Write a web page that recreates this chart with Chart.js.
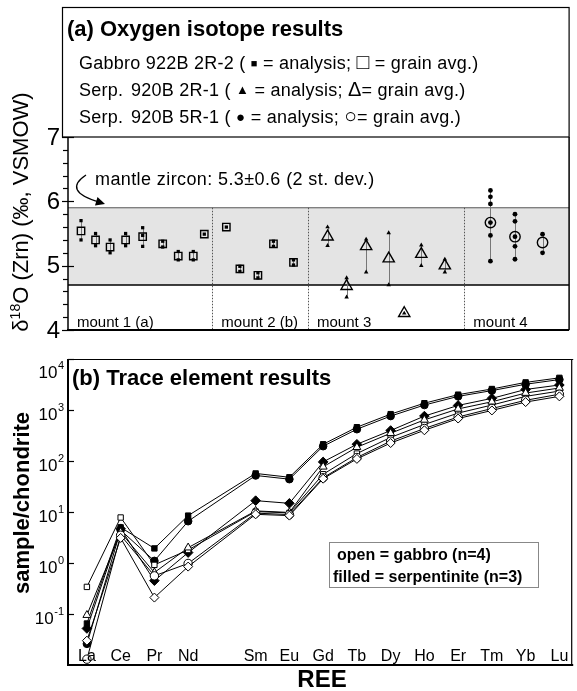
<!DOCTYPE html>
<html><head><meta charset="utf-8">
<script src="https://cdn.jsdelivr.net/npm/chart.js@4/dist/chart.umd.min.js"></script>
<style>
html,body{margin:0;padding:0;background:#fff;}
body{width:577px;height:691px;position:relative;overflow:hidden;font-family:"Liberation Sans",Arial,Helvetica,sans-serif;color:#000;}
.w{position:absolute;left:0;width:577px;}
.t{position:absolute;white-space:nowrap;line-height:1;}
.b{font-weight:bold;}
.h{font-size:18px;letter-spacing:0.25px;}
.s{line-height:0;}
.lab{display:inline-block;width:52px;}
</style></head><body>
<div class="w" style="top:0;height:345px"><canvas id="ca"></canvas></div>
<div class="w" style="top:345px;height:346px"><canvas id="cb"></canvas></div>

<div class="t b" style="left:67px;top:18px;font-size:22px">(a) Oxygen isotope results</div>
<div class="t h" style="left:79px;top:54px">Gabbro 922B 2R-2 ( <span class="s" style="font-size:11px;vertical-align:2px">■</span> = analysis; <span class="s" style="font-size:21px">□</span> = grain avg.)</div>
<div class="t h" style="left:79px;top:81px"><span class="lab">Serp.</span>920B 2R-1 ( <span class="s" style="font-size:13px;vertical-align:2px">▲</span> = analysis; <span class="s" style="font-size:20px">Δ</span>= grain avg.)</div>
<div class="t h" style="left:79px;top:108px"><span class="lab">Serp.</span>920B 5R-1 ( <span class="s" style="font-size:15px;vertical-align:1px">●</span> = analysis; <span class="s" style="font-size:21px">○</span>= grain avg.)</div>
<div class="t" style="left:95px;top:170px;font-size:18px;letter-spacing:0.4px">mantle zircon: 5.3±0.6 (2 st. dev.)</div>
<div class="t" style="left:20px;top:212px;font-size:22px;transform:translate(-50%,-50%) rotate(-90deg)">δ<span style="font-size:14px;vertical-align:8px">18</span>O (Zrn) (‰, VSMOW)</div>

<div class="t b" style="left:72px;top:367px;font-size:22px">(b) Trace element results</div>
<div class="t b" style="left:22px;top:503px;font-size:22px;transform:translate(-50%,-50%) rotate(-90deg)">sample/chondrite</div>
<div class="t b" style="left:322px;top:679px;font-size:24px;transform:translate(-50%,-50%)">REE</div>
<div style="position:absolute;left:329px;top:542px;width:208px;height:44px;border:1px solid #888;"></div>
<div class="t b" style="left:337px;top:547px;font-size:16px">open = gabbro (n=4)</div>
<div class="t b" style="left:333px;top:569px;font-size:16px">filled = serpentinite (n=3)</div>

<script>
// ---------------- Panel (a): oxygen isotopes ----------------
const mountNames = ['mount 1 (a)', 'mount 2 (b)', 'mount 3', 'mount 4'];
const mountStart = [0, 28.8, 47.9, 79.1];
const mountDividers = [28.8, 47.9, 79.1];
const mantleRange = [4.7, 5.9];
const yTicksA = [4, 5, 6, 7];

// Gabbro 922B 2R-2 (squares)
const gabbroX = [2.6, 5.5, 8.4, 11.5, 14.9, 18.9, 22.0, 25.0, 27.2, 31.6, 34.3, 37.9, 41.0, 45.0];
const gabbroAvg = [5.54, 5.40, 5.29, 5.40, 5.45, 5.34, 5.15, 5.15, 5.49, 5.60, 4.95, 4.85, 5.34, 5.05];
const gabbroAnalyses = [[5.70, 5.40], [5.50, 5.31], [5.40, 5.20], [5.50, 5.31], [5.59, 5.47, 5.30], [5.38, 5.29],
  [5.22, 5.09], [5.22, 5.09], [5.49], [5.60], [4.99, 4.91], [4.89, 4.81], [5.38, 5.30], [5.09, 5.01]];

// Serp. 920B 2R-1 (triangles)
const serp2X = [51.8, 55.6, 59.5, 64.0, 67.1, 70.5, 75.2];
const serp2Avg = [5.45, 4.68, 5.30, 5.11, 4.26, 5.18, 5.00];
const serp2Analyses = [[5.60, 5.31], [4.81, 4.51], [5.41, 4.90], [5.51, 4.70], [4.26], [5.32, 5.00], [5.10, 4.90]];

// Serp. 920B 5R-1 (circles)
const serp5X = [84.3, 89.2, 94.7];
const serp5Avg = [5.67, 5.45, 5.36];
const serp5Analyses = [[6.17, 6.07, 5.96, 5.67, 5.47, 5.07], [5.80, 5.69, 5.45, 5.30, 5.10], [5.49, 5.20]];

// ---------------- Panel (b): REE ----------------
const reeLabels = ['La', 'Ce', 'Pr', 'Nd', 'Sm', 'Eu', 'Gd', 'Tb', 'Dy', 'Ho', 'Er', 'Tm', 'Yb', 'Lu'];
const reeZ = [57, 58, 59, 60, 62, 63, 64, 65, 66, 67, 68, 69, 70, 71];
const yTickValsB = [0.1, 1, 10, 100, 1000, 10000];
const yTickExpB = ['-1', '0', '1', '2', '3', '4'];

const serpSquare  = [0.065, 5.0, 1.93, 8.5, 57, 48, 213, 460, 830, 1360, 2000, 2580, 3480, 4270];
const serpCircle  = [0.026, 4.4, 1.10, 6.6, 52, 44, 195, 420, 760, 1250, 1850, 2400, 3200, 3950];
const serpDiamond = [0.052, 4.7, 0.45, 1.6, 16.7, 14.8, 96, 213, 396, 760, 1230, 1690, 2530, 3090];
const gabSquare   = [0.34, 7.8, 0.92, 1.8, 10.2, 9.6, 55, 140, 290, 520, 870, 1250, 1850, 2350];
const gabTriangle = [0.095, 4.0, 0.65, 2.0, 10.5, 9.8, 77, 186, 350, 640, 1050, 1450, 2150, 2700];
const gabCircle   = [0.013, 3.5, 0.56, 0.98, 9.5, 8.9, 47, 117, 245, 434, 730, 1070, 1550, 2040];
const gabDiamond  = [0.030, 3.1, 0.21, 0.85, 9.0, 8.5, 45, 110, 225, 400, 680, 980, 1430, 1850];

const FONT = '"Liberation Sans", Arial, Helvetica, sans-serif';

function line(ctx, x1, y1, x2, y2) { ctx.beginPath(); ctx.moveTo(x1, y1); ctx.lineTo(x2, y2); ctx.stroke(); }
function pts(xs, ys) { return xs.map((x, i) => ({ x: x, y: ys[i] })); }
function ptsNested(xs, nested) { const out = []; nested.forEach((arr, i) => arr.forEach(v => out.push({ x: xs[i], y: v }))); return out; }

const groupsA = [
  { x: gabbroX, an: gabbroAnalyses },
  { x: serp2X, an: serp2Analyses },
  { x: serp5X, an: serp5Analyses }
];

const panelA = {
  id: 'panelA',
  beforeDatasetsDraw(chart) {
    const { ctx, chartArea: a, scales: { x, y } } = chart;
    ctx.save();
    const yTop = y.getPixelForValue(mantleRange[1]), yBot = y.getPixelForValue(mantleRange[0]);
    ctx.fillStyle = '#e4e4e4';
    ctx.fillRect(a.left, yTop, a.right - a.left, yBot - yTop);
    ctx.strokeStyle = '#555'; ctx.lineWidth = 1;
    line(ctx, a.left, yTop, a.right, yTop);
    ctx.strokeStyle = '#000'; ctx.lineWidth = 1.6;
    line(ctx, a.left, yBot, a.right, yBot);
    ctx.setLineDash([1.5, 1.5]); ctx.strokeStyle = '#555'; ctx.lineWidth = 1;
    mountDividers.forEach(v => { const px = Math.round(x.getPixelForValue(v)) + 0.5; line(ctx, px, yTop, px, a.bottom); });
    ctx.setLineDash([]);
    ctx.strokeStyle = '#777'; ctx.lineWidth = 1;
    groupsA.forEach(g => g.an.forEach((arr, i) => {
      if (arr.length > 1) {
        const px = Math.round(x.getPixelForValue(g.x[i])) + 0.5;
        line(ctx, px, y.getPixelForValue(Math.max(...arr)), px, y.getPixelForValue(Math.min(...arr)));
      }
    }));
    ctx.restore();
  },
  afterDraw(chart) {
    const { ctx, chartArea: a, scales: { x, y } } = chart;
    ctx.save();
    ctx.strokeStyle = '#000';
    // header box
    ctx.lineWidth = 1.2;
    ctx.strokeRect(62.5, 7.5, a.right - 62.5, a.top - 7.5);
    // plot frame
    ctx.lineWidth = 1.5;
    line(ctx, a.left, a.top, a.left, a.bottom);
    line(ctx, a.right, a.top, a.right, a.bottom);
    ctx.lineWidth = 2;
    line(ctx, a.left - 1, a.bottom, a.right, a.bottom);
    // y ticks
    ctx.lineWidth = 1.2;
    for (let k = 0; k <= 15; k++) {
      const v = yTicksA[0] + k * 0.2;
      const py = Math.round(y.getPixelForValue(v)) + 0.5;
      const major = yTicksA.some(t => Math.abs(t - v) < 1e-6);
      if (major) line(ctx, a.left - 6, py, a.left + 6, py);
      else line(ctx, a.left - 5, py, a.left, py);
    }
    // y tick labels
    ctx.fillStyle = '#000'; ctx.font = '24px ' + FONT; ctx.textAlign = 'right'; ctx.textBaseline = 'middle';
    yTicksA.forEach(v => ctx.fillText(String(v), a.left - 8, y.getPixelForValue(v) + 1));
    // mount labels
    ctx.font = '15px ' + FONT; ctx.textBaseline = 'alphabetic'; ctx.textAlign = 'left';
    mountNames.forEach((n, i) => ctx.fillText(n, x.getPixelForValue(mountStart[i]) + 9, a.bottom - 3));
    // curved arrow for mantle zircon
    ctx.lineWidth = 1.3;
    ctx.beginPath(); ctx.moveTo(86, 175); ctx.quadraticCurveTo(62, 191, 99, 202); ctx.stroke();
    ctx.beginPath(); ctx.moveTo(105, 204); ctx.lineTo(95, 205.5); ctx.lineTo(97.5, 197); ctx.closePath(); ctx.fill();
    ctx.restore();
  }
};

const analysisStyle = { borderColor: '#000', backgroundColor: '#000', borderWidth: 0 };
const avgStyle = { borderColor: '#000', backgroundColor: 'rgba(0,0,0,0)', borderWidth: 1.4 };

new Chart(document.getElementById('ca'), {
  type: 'scatter',
  data: {
    datasets: [
      Object.assign({ label: 'gabbro avg', data: pts(gabbroX, gabbroAvg), pointStyle: 'rect', pointRadius: 5.2 }, avgStyle),
      Object.assign({ label: 'serp 2R-1 avg', data: pts(serp2X, serp2Avg), pointStyle: 'triangle', pointRadius: 6.5 }, avgStyle),
      Object.assign({ label: 'serp 5R-1 avg', data: pts(serp5X, serp5Avg), pointStyle: 'circle', pointRadius: 5.2 }, avgStyle),
      Object.assign({ label: 'gabbro analysis', data: ptsNested(gabbroX, gabbroAnalyses), pointStyle: 'rect', pointRadius: 2.3 }, analysisStyle),
      Object.assign({ label: 'serp 2R-1 analysis', data: ptsNested(serp2X, serp2Analyses), pointStyle: 'triangle', pointRadius: 2.6 }, analysisStyle),
      Object.assign({ label: 'serp 5R-1 analysis', data: ptsNested(serp5X, serp5Analyses), pointStyle: 'circle', pointRadius: 2.4 }, analysisStyle)
    ]
  },
  options: {
    responsive: true, maintainAspectRatio: false, animation: false,
    layout: { padding: { top: 137, right: 2, bottom: 15, left: 0 } },
    plugins: { legend: { display: false }, tooltip: { enabled: false } },
    scales: {
      x: { type: 'linear', min: 0, max: 100, display: false },
      y: {
        type: 'linear', min: 4, max: 7,
        afterFit(s) { s.width = 68; },
        ticks: { display: false },
        grid: { display: false }, border: { display: false }
      }
    }
  },
  plugins: [panelA]
});

// ---------------- Panel (b) chart ----------------
const panelB = {
  id: 'panelB',
  afterDraw(chart) {
    const { ctx, chartArea: a, scales: { x, y } } = chart;
    ctx.save();
    ctx.strokeStyle = '#000';
    ctx.lineWidth = 1.2;
    line(ctx, a.left, a.top + 0.5, a.right + 2, a.top + 0.5);
    line(ctx, a.right + 0.5, a.top, a.right + 0.5, a.bottom);
    ctx.lineWidth = 2;
    line(ctx, a.left, a.top, a.left, a.bottom);
    line(ctx, a.left - 1, a.bottom, a.right + 2, a.bottom);
    // decade ticks
    ctx.lineWidth = 1.2;
    yTickValsB.forEach(v => { const py = Math.round(y.getPixelForValue(v)) + 0.5; line(ctx, a.left, py, a.left + 6, py); });
    // y labels with superscripts
    ctx.fillStyle = '#000'; ctx.textBaseline = 'middle';
    yTickValsB.forEach((v, i) => {
      const py = y.getPixelForValue(v);
      const cy = Math.max(py + 5, a.top + 14);
      ctx.font = '11px ' + FONT;
      const ew = ctx.measureText(yTickExpB[i]).width;
      ctx.textAlign = 'left';
      ctx.fillText(yTickExpB[i], 64 - ew, cy - 7);
      ctx.font = '17px ' + FONT;
      ctx.textAlign = 'right';
      ctx.fillText('10', 64 - ew - 0.5, cy);
    });
    // REE labels inside plot
    ctx.font = '16px ' + FONT; ctx.textAlign = 'center'; ctx.textBaseline = 'alphabetic';
    reeLabels.forEach((l, i) => ctx.fillText(l, x.getPixelForValue(reeZ[i]), a.bottom - 4));
    ctx.restore();
  }
};

function ree(label, data, style, filled, r) {
  return {
    label: label, data: pts(reeZ, data), showLine: true, borderColor: '#000', borderWidth: 1,
    pointStyle: style, pointRadius: r, pointBackgroundColor: filled ? '#000' : '#fff',
    pointBorderColor: '#000', pointBorderWidth: 1, backgroundColor: filled ? '#000' : '#fff', tension: 0
  };
}

new Chart(document.getElementById('cb'), {
  type: 'scatter',
  data: {
    datasets: [
      ree('gabbro diamond', gabDiamond, 'rectRot', false, 4.5),
      ree('gabbro circle', gabCircle, 'circle', false, 4.2),
      ree('gabbro triangle', gabTriangle, 'triangle', false, 4.6),
      ree('gabbro square', gabSquare, 'rect', false, 3.8),
      ree('serp diamond', serpDiamond, 'rectRot', true, 4.8),
      ree('serp circle', serpCircle, 'circle', true, 3.8),
      ree('serp square', serpSquare, 'rect', true, 3.8)
    ]
  },
  options: {
    responsive: true, maintainAspectRatio: false, animation: false,
    layout: { padding: { top: 14, right: 2, bottom: 26, left: 0 } },
    plugins: { legend: { display: false }, tooltip: { enabled: false } },
    scales: {
      x: { type: 'linear', min: reeZ[0] - 0.56, max: reeZ[reeZ.length - 1] + 0.35, display: false },
      y: {
        type: 'logarithmic', min: 0.01, max: 10000,
        afterFit(s) { s.width = 68; },
        ticks: { display: false },
        grid: { display: false }, border: { display: false }
      }
    }
  },
  plugins: [panelB]
});
</script>
</body></html>
